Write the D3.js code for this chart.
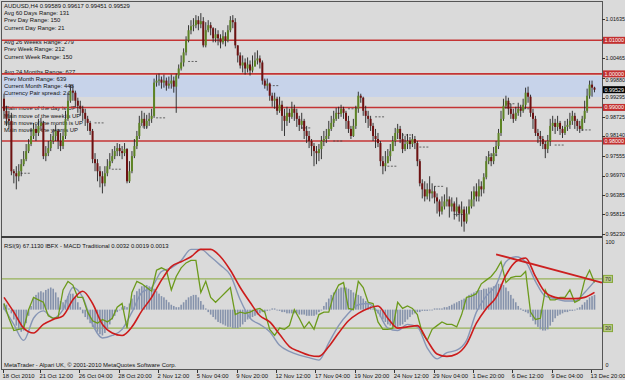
<!DOCTYPE html>
<html>
<head>
<meta charset="utf-8">
<script src="https://cdn.jsdelivr.net/npm/d3@7"></script>
<style>
    body { margin: 0; background: #dadada; }
    svg { display: block; font-family: "Liberation Sans", Arial, sans-serif; }
</style>
</head>
<body>
<svg id="chart" width="625" height="380"></svg>
<script>
// AUDUSD H4 bars, prices in pips above 0.9500 (0.95 + v / 10000)
// open of each bar = close of the bar before it
var firstOpen = 426;
var closes = [
    390,366,360,210,204,195,210,231,246,270,
    291,315,336,324,345,354,255,264,279,300,
    315,330,300,285,315,366,420,450,444,420,
    405,396,384,366,354,330,246,234,210,195,
    174,204,225,240,255,270,279,270,264,276,
    180,210,255,285,315,354,366,345,360,366,
    375,474,480,483,474,480,465,471,480,462,
    495,516,534,564,600,630,642,645,660,648,
    657,585,630,645,636,606,618,606,594,612,
    600,630,660,654,585,555,525,534,516,528,
    510,522,540,546,534,480,465,471,435,420,
    426,390,408,375,360,384,372,396,384,366,
    348,360,330,315,300,285,270,264,276,300,
    306,315,336,354,366,384,381,396,384,360,
    336,315,345,396,435,429,390,375,366,345,
    315,306,294,240,225,234,255,270,300,324,
    336,306,276,291,300,291,306,294,240,174,
    156,135,156,144,150,132,120,90,105,120,
    126,105,114,90,105,84,96,60,84,105,
    126,150,135,165,156,192,240,252,240,264,
    285,324,366,405,420,396,381,366,384,396,
    390,408,444,432,384,366,324,315,306,291,
    276,300,345,354,342,354,336,324,342,348,
    360,375,360,345,336,366,390,435,468,459,
    452.9
];
var highs = [
    441,405,390,384,216,225,231,246,270,291,
    306,339,354,348,366,369,360,285,300,321,
    336,348,336,324,336,390,444,468,465,450,
    429,420,405,396,375,360,336,264,246,225,
    210,225,246,264,276,285,294,291,285,294,
    279,240,270,306,330,375,390,384,378,384,
    396,486,498,501,492,498,489,492,498,492,
    501,528,555,576,612,645,660,666,675,672,
    681,669,654,660,654,639,636,630,618,630,
    624,645,672,675,666,585,564,555,546,549,
    540,555,564,570,555,540,486,486,474,444,
    444,432,432,420,396,402,396,417,408,396,
    375,384,366,345,330,306,294,285,291,315,
    330,336,360,375,390,399,402,408,402,390,
    375,345,366,405,447,441,432,405,390,375,
    354,336,324,300,255,270,276,291,315,339,
    351,345,324,315,321,312,321,315,300,246,
    186,180,174,195,174,165,144,126,135,141,
    162,135,132,120,132,111,120,105,105,126,
    150,165,174,186,180,204,255,270,264,282,
    300,336,390,426,435,429,411,396,402,414,
    408,426,459,462,438,396,375,336,330,315,
    300,318,366,375,366,375,360,345,360,366,
    384,390,384,366,360,375,420,456,480,480,
    461.7
];
var lows = [
    366,345,336,198,174,156,180,195,225,240,
    264,285,306,300,315,330,246,240,255,270,
    291,300,276,270,276,306,360,414,420,402,
    384,375,360,345,330,318,234,210,180,162,
    144,165,195,216,234,246,255,255,246,255,
    174,175,204,249,276,306,345,336,336,345,
    354,369,462,465,456,459,450,456,456,444,
    384,486,510,522,555,594,618,627,636,630,
    636,579,579,624,615,594,594,585,576,588,
    582,594,624,636,576,534,516,504,498,504,
    495,504,522,528,516,468,456,450,420,402,
    396,378,384,330,315,345,354,366,360,342,
    330,336,306,294,279,255,225,231,240,246,
    285,294,306,330,342,360,366,372,366,336,
    324,306,312,336,384,414,375,354,339,330,
    300,279,282,225,201,210,234,240,270,285,
    306,294,264,270,276,276,282,276,225,165,
    129,120,126,120,129,114,84,75,81,96,
    105,72,90,66,75,60,45,30,54,81,
    99,105,120,120,135,144,186,231,225,231,
    255,276,315,360,396,378,366,354,360,375,
    372,384,396,414,372,336,315,294,285,276,
    249,264,285,330,321,330,318,309,318,330,
    336,348,336,330,324,330,354,384,426,432,
    445.1
];

// fractal dash marks: [bar, pips]
var fractalMarks = [
    [6,204],[36,354],[43,216],[54,342],[61,369],[74,537],[107,465],[120,339],
    [133,300],[139,396],[150,372],[155,225],[161,318],[168,282],[174,165],
    [182,81],[196,258],[203,411],[209,396],[223,288],[234,333]
];

var levelPrices = [1.01, 1.00, 0.99, 0.98];
var zoneBand = [0.99312, 0.99937];
var lastPrice = 0.99529;
var priceTicks = [1.01635, 1.0105, 1.00465, 0.9988, 0.99295, 0.98725, 0.9814, 0.97555, 0.9697, 0.96385, 0.95815, 0.9523];

var timeLabels = ["18 Oct 2010","21 Oct 12:00","26 Oct 04:00","28 Oct 20:00","2 Nov 12:00","5 Nov 04:00",
    "9 Nov 20:00","12 Nov 12:00","17 Nov 04:00","19 Nov 20:00","24 Nov 12:00","29 Nov 04:00",
    "1 Dec 20:00","6 Dec 12:00","9 Dec 04:00","13 Dec 20:00"];
var timeLabelBars = [0,15,31,47,63,79,95,111,127,143,159,175,191,207,223,239];

var headerText = "AUDUSD,H4  0.99589 0.99617 0.99451 0.99529";
var infoGroups = [
    ["Avg 60 Days Range: 131", "Prev Day Range: 150", "Current Day Range: 21"],
    ["Avg 26 Weeks Range: 279", "Prev Week Range: 212", "Current Week Range: 150"],
    ["Avg 24 Months Range: 627", "Prev Month Range: 639", "Current Month Range: 448", "Currency Pair spread: 2.0"],
    ["Main move of the day is UP", "Main move of the week is UP", "Main move of the month is UP", "Main move of the year is UP"]
];

// lower window: RSI(9) one value every 2 bars, the smooth lines every 4 bars
var rsiStep = 2;
var rsiGreen = [
    50,38,28,29,30,45,55,53,51,40,
    38,39,61,68,65,55,55,43,36,34,
    37,35,38,47,50,30,59,68,66,63,
    60,77,79,77,61,72,79,83,85,85,
    59,68,55,51,55,59,63,41,43,42,
    43,45,46,43,29,24,30,29,32,45,
    38,30,35,29,41,43,43,57,65,67,
    46,45,68,63,51,50,35,29,29,30,
    51,46,48,46,41,26,20,29,32,35,
    33,33,31,41,55,56,58,66,69,72,
    77,84,67,71,72,72,76,43,37,38,
    61,53,53,55,55,61,51,53,69,77,
    67.1
];
var sampleStep = 4;
var slowGray = [
    46,33,20,38,44,38,45,63,55,33,
    22,24,29,43,59,63,76,79,85,94,
    94,88,81,73,53,38,33,27,16,11,
    8,6,4,18,32,42,49,50,43,30,
    28,33,31,14,5,10,12,20,43,56,
    65,84,88,84,68,56,54,52,52,59,
    68
];
var slowRed = [
    55,43,30,26,33,37,40,53,60,50,
    33,26,24,31,44,55,69,80,84,88,
    94,94,88,77,63,51,40,35,25,15,
    11,8,7,15,26,36,42,46,48,38,
    30,31,32,20,9,7,9,17,34,46,
    55,73,84,87,72,59,55,54,54,55,
    59
];
// MACD histogram, one per bar
var macdHist = [
    5,4,1,-3,-8,-13,-16,-18,-17,-11,
    -5,3,9,12,14,15,14,16,17,18,
    17,14,10,7,6,8,11,13,13,10,
    6,2,-3,-6,-8,-11,-14,-16,-18,-20,
    -21,-19,-16,-12,-8,-5,-2,0,2,3,
    2,5,9,12,15,17,19,20,20,19,
    18,17,15,13,11,10,8,6,4,3,
    2,2,4,6,8,10,11,12,12,10,
    7,4,1,-2,-4,-6,-8,-10,-11,-12,
    -13,-14,-14,-15,-15,-15,-14,-12,-10,-8,
    -7,-6,-5,-4,-3,-2,-2,-1,0,1,
    1,0,-1,-2,-2,-3,-3,-3,-3,-3,
    -4,-4,-4,-5,-5,-5,-5,-4,-2,0,
    3,6,9,12,14,16,17,18,18,18,
    17,16,14,13,12,11,9,7,5,3,
    1,-1,-3,-6,-8,-10,-12,-13,-14,-14,
    -14,-13,-12,-10,-8,-6,-4,-3,-2,-2,
    -1,-1,-1,0,0,1,1,1,1,2,
    2,3,4,5,6,7,8,9,10,12,
    13,14,15,16,16,17,17,18,18,19,
    20,21,21,20,18,15,12,9,6,3,
    1,-1,-2,-3,-6,-9,-12,-14,-16,-17,
    -17,-16,-13,-10,-7,-5,-4,-3,-2,-2,
    -1,-1,0,1,2,4,6,8,10,11,
    12
];
var trendLine = [[200, 90], [243, 67]];
var indLevels = [70, 30];
var indHeader = "RSI(9) 67.1130  IBFX - MACD Traditional 0.0032 0.0019 0.0013";
var copyright = "MetaTrader - Alpari UK, \u00a9 2001-2010 MetaQuotes Software Corp.";

var svg = d3.select("#chart");
var N = closes.length;
var toPrice = function (v) { return 0.95 + v / 10000; };
var fs = 5.9, axFs = 5.4;

var x = d3.scaleLinear().domain([0, N - 1]).range([4, 594.5]);
var y = d3.scaleLinear().domain([0.9523, 1.01635]).range([234, 19]);
var yInd = d3.scaleLinear().domain([0, 100]).range([365, 242]);
var yHist = d3.scaleLinear().domain([-45, 55]).range([365, 242]);

svg.append("rect").attr("width", 625).attr("height", 380).attr("fill", "#dadada");

svg.append("defs").call(function (defs) {
    defs.append("clipPath").attr("id", "clipTop").append("rect")
        .attr("x", 2).attr("y", 2).attr("width", 600).attr("height", 234);
    defs.append("clipPath").attr("id", "clipBottom").append("rect")
        .attr("x", 2).attr("y", 238).attr("width", 600).attr("height", 131);
});

var mainPanel = svg.append("g").attr("clip-path", "url(#clipTop)");

// blue band
mainPanel.append("rect")
    .attr("x", 2).attr("width", 600)
    .attr("y", y(zoneBand[1])).attr("height", y(zoneBand[0]) - y(zoneBand[1]))
    .attr("fill", "#c7d3ea");

// info texts
mainPanel.append("text").attr("x", 4).attr("y", 6).attr("dy", "0.35em")
    .attr("font-size", fs).attr("fill", "#111").text(headerText);
var groupTop = [13, 42, 71.5, 108.3];
infoGroups.forEach(function (lines, g) {
    mainPanel.selectAll(null).data(lines).enter().append("text")
        .attr("x", 4)
        .attr("y", function (d, i) { return groupTop[g] + i * 7.25; })
        .attr("dy", "0.35em")
        .attr("font-size", fs)
        .attr("fill", "#111")
        .text(function (d) { return d; });
});

// red levels
mainPanel.selectAll(".lvl").data(levelPrices).enter().append("line")
    .attr("x1", 2).attr("x2", 602)
    .attr("y1", function (d) { return y(d); }).attr("y2", function (d) { return y(d); })
    .attr("stroke", "#c43434").attr("stroke-width", 1.6);

// fractal dashes
mainPanel.selectAll(".fr").data(fractalMarks).enter().append("line")
    .attr("x1", function (d) { return x(d[0]) + 2; })
    .attr("x2", function (d) { return x(d[0]) + 12; })
    .attr("y1", function (d) { return y(toPrice(d[1])); })
    .attr("y2", function (d) { return y(toPrice(d[1])); })
    .attr("stroke", "#444").attr("stroke-width", 0.8)
    .attr("stroke-dasharray", "2,1.5");

// candles
var bars = closes.map(function (c, i) {
    return {
        i: i,
        o: toPrice(i === 0 ? firstOpen : closes[i - 1]),
        h: toPrice(highs[i]),
        l: toPrice(lows[i]),
        c: toPrice(c)
    };
});
var candle = mainPanel.selectAll(".bar").data(bars).enter().append("g");
candle.append("line")
    .attr("x1", function (d) { return x(d.i); }).attr("x2", function (d) { return x(d.i); })
    .attr("y1", function (d) { return y(d.h); }).attr("y2", function (d) { return y(d.l); })
    .attr("stroke", "#222").attr("stroke-width", 0.9);
candle.append("rect")
    .attr("x", function (d) { return x(d.i) - 1; })
    .attr("width", 2)
    .attr("y", function (d) { return y(Math.max(d.o, d.c)); })
    .attr("height", function (d) { return Math.max(1, Math.abs(y(d.o) - y(d.c))); })
    .attr("fill", function (d) { return d.c >= d.o ? "#5d8424" : "#6e1212"; });

// lower window
var bot = svg.append("g").attr("clip-path", "url(#clipBottom)");

bot.selectAll(".lv").data(indLevels).enter().append("line")
    .attr("x1", 2).attr("x2", 602)
    .attr("y1", function (d) { return yInd(d); }).attr("y2", function (d) { return yInd(d); })
    .attr("stroke", "#86a838").attr("stroke-width", 1);

bot.selectAll(".hb").data(macdHist).enter().append("rect")
    .attr("x", function (d, i) { return x(i) - 0.8; })
    .attr("width", 1.6)
    .attr("y", function (d) { return Math.min(yHist(d), yHist(0)); })
    .attr("height", function (d) { return Math.max(0.8, Math.abs(yHist(d) - yHist(0))); })
    .attr("fill", "#8592ab");

function drawLine(vals, step, color, width, curve) {
    bot.append("path")
        .attr("d", d3.line()
            .x(function (d, k) { return x(k * step); })
            .y(function (d) { return yInd(d); })
            .curve(curve)(vals))
        .attr("fill", "none").attr("stroke", color).attr("stroke-width", width);
}
drawLine(slowGray, sampleStep, "#8796b6", 1.4, d3.curveMonotoneX);
drawLine(rsiGreen, rsiStep, "#6c9a1c", 1.3, d3.curveLinear);
drawLine(slowRed, sampleStep, "#cc1c1c", 1.6, d3.curveMonotoneX);

bot.append("line")
    .attr("x1", x(trendLine[0][0])).attr("y1", yInd(trendLine[0][1]))
    .attr("x2", x(trendLine[1][0])).attr("y2", yInd(trendLine[1][1]))
    .attr("stroke", "#cc2020").attr("stroke-width", 1.8);

bot.append("text").attr("x", 4).attr("y", 245.5).attr("dy", "0.35em")
    .attr("font-size", fs).attr("fill", "#111").text(indHeader);
bot.append("text").attr("x", 4).attr("y", 365).attr("dy", "0.35em")
    .attr("font-size", fs).attr("fill", "#111").text(copyright);

// frame
var frame = svg.append("g").attr("fill", "none").attr("stroke", "#555").attr("shape-rendering", "crispEdges");
frame.append("rect").attr("x", 1.5).attr("y", 1.5).attr("width", 600.5).attr("height", 368);
svg.append("line").attr("x1", 1).attr("x2", 602).attr("y1", 237).attr("y2", 237)
    .attr("stroke", "#3c3c3c").attr("stroke-width", 2);

// right price axis (a label fully under a level box is left out, one close to it is nudged clear)
var ax = svg.append("g");
ax.selectAll(".pt").data(priceTicks).enter().append("line")
    .attr("x1", 602).attr("x2", 605)
    .attr("y1", function (d) { return Math.round(y(d)) + 0.5; })
    .attr("y2", function (d) { return Math.round(y(d)) + 0.5; })
    .attr("stroke", "#333");
var boxHalf = 3.5, labelHalf = 2.2;
var shownTicks = priceTicks.filter(function (t) {
    return levelPrices.every(function (l) { return Math.abs(y(t) - y(l)) > 3; });
});
function labelY(t) {
    var yy = y(t);
    levelPrices.forEach(function (l) {
        var d = yy - y(l), clear = boxHalf + labelHalf + 0.3;
        if (Math.abs(d) < clear) yy = y(l) + (d > 0 ? clear : -clear);
    });
    return yy;
}
ax.selectAll(".pl").data(shownTicks).enter().append("text")
    .attr("x", 605.5).attr("y", labelY).attr("dy", "0.35em")
    .attr("font-size", axFs).attr("fill", "#111")
    .text(function (d) { return d.toFixed(5); });

var lvlBox = ax.selectAll(".lb").data(levelPrices).enter().append("g")
    .attr("transform", function (d) { return "translate(603," + y(d) + ")"; });
lvlBox.append("rect").attr("x", 0).attr("y", -boxHalf).attr("width", 22).attr("height", 2 * boxHalf).attr("fill", "#c23030");
lvlBox.append("text").attr("x", 1.5).attr("dy", "0.35em").attr("font-size", axFs).attr("fill", "#fff")
    .text(function (d) { return d.toFixed(5); });

var lp = ax.append("g").attr("transform", "translate(603," + y(lastPrice) + ")");
lp.append("rect").attr("y", -boxHalf).attr("width", 22).attr("height", 2 * boxHalf).attr("fill", "#000");
lp.append("text").attr("x", 1.5).attr("dy", "0.35em").attr("font-size", axFs).attr("fill", "#fff")
    .text(lastPrice.toFixed(5));

// indicator axis
ax.append("text").attr("x", 605.5).attr("y", yInd(100)).attr("dy", "0.35em")
    .attr("font-size", axFs).attr("fill", "#111").text("100");
ax.append("text").attr("x", 605.5).attr("y", yInd(0)).attr("dy", "0.35em")
    .attr("font-size", axFs).attr("fill", "#111").text("0");
var il = ax.selectAll(".il").data(indLevels).enter().append("g")
    .attr("transform", function (d) { return "translate(603," + yInd(d) + ")"; });
il.append("rect").attr("x", 0.5).attr("y", -3.5).attr("width", 9).attr("height", 7)
    .attr("fill", "#b9c98a").attr("stroke", "#86a838");
il.append("text").attr("x", 2).attr("dy", "0.35em").attr("font-size", axFs).attr("fill", "#333")
    .text(function (d) { return d; });

// time axis
var tl = svg.append("g");
tl.selectAll("line").data(timeLabelBars).enter().append("line")
    .attr("x1", function (d) { return Math.round(x(d)) - 0.5; })
    .attr("x2", function (d) { return Math.round(x(d)) - 0.5; })
    .attr("y1", 370).attr("y2", 373).attr("stroke", "#333");
tl.selectAll("text").data(timeLabels).enter().append("text")
    .attr("x", function (d, i) { return x(timeLabelBars[i]) - 1.5; })
    .attr("y", 375.8).attr("dy", "0.35em")
    .attr("font-size", fs).attr("fill", "#111")
    .text(function (d) { return d; });
</script>
</body>
</html>
